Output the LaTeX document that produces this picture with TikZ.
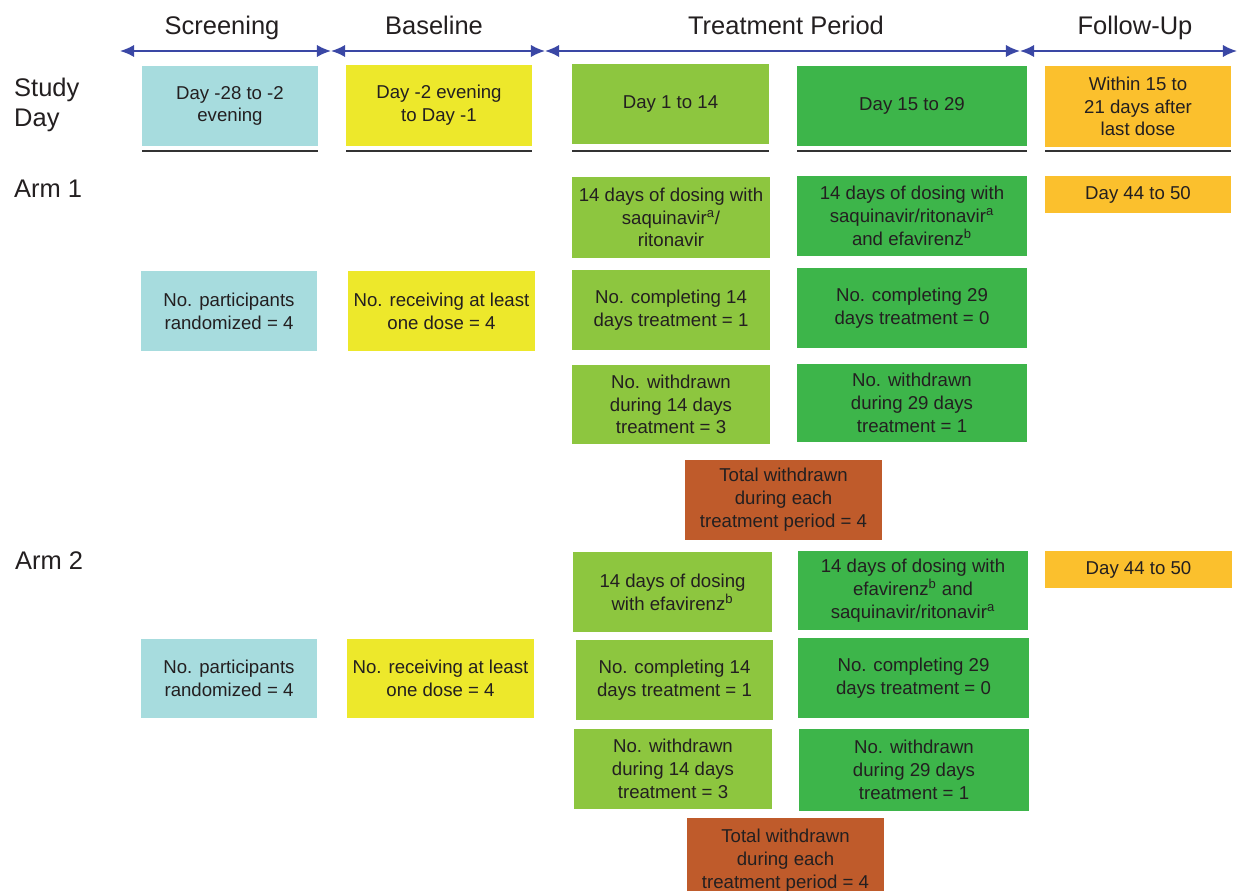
\documentclass[tikz,border=0pt]{standalone}
\usepackage{fontspec}
\setmainfont{Liberation Sans}
\usetikzlibrary{arrows.meta}

\definecolor{scrcol}{HTML}{A7DCDE}
\definecolor{basecol}{HTML}{EDE82B}
\definecolor{trtone}{HTML}{8DC63F}
\definecolor{trttwo}{HTML}{3DB54A}
\definecolor{fucol}{HTML}{FBC02D}
\definecolor{wdcol}{HTML}{BF5B2B}
\definecolor{linecol}{HTML}{3A47A5}
\definecolor{txtcol}{HTML}{231F20}

\begin{document}
\begin{tikzpicture}[x=0.02cm, y=-0.02cm,
    box/.style={inner sep=0pt, align=center, text=txtcol, font=\fontsize{10.6}{13}\selectfont},
    head/.style={text=txtcol, font=\fontsize{14.5}{17.5}\selectfont},
    timeline/.style={linecol, line width=1.1pt, {Latex[length=8pt,width=7pt]}-{Latex[length=8pt,width=7pt]}},
    underline/.style={draw=black!80, line width=1.4pt}]
        \useasboundingbox (0,0) rectangle (1237,891);

        % periods
        \node[head, anchor=base] (hscr) at (222,35) {Screening};
        \node[head, anchor=base] (hbase) at (434,35) {Baseline};
        \node[head, anchor=base] (htrt) at (786,35) {Treatment Period};
        \node[head, anchor=base] (hfu) at (1135,35) {Follow-Up};

        \coordinate (t0) at (120,51);
        \coordinate (t1) at (331,51);
        \coordinate (t2) at (545,51);
        \coordinate (t3) at (1020,51);
        \coordinate (t4) at (1237,51);
        \draw[timeline] (t0) -- (t1);
        \draw[timeline] (t1) -- (t2);
        \draw[timeline] (t2) -- (t3);
        \draw[timeline] (t3) -- (t4);

        % row labels
        \node[head, anchor=west, align=left] (lday) at (8,105) {Study\\Day};
        \node[head, anchor=west] (larm1) at (8,189) {Arm 1};
        \node[head, anchor=west] (larm2) at (9,561) {Arm 2};

        % study day
        \node[box, fill=scrcol, minimum width=3.52cm, minimum height=1.6cm] (sday) at (230,106) {Day -28 to -2\\evening};
        \node[box, fill=basecol, minimum width=3.72cm, minimum height=1.62cm] (bday) at (439,105.5) {Day -2 evening\\to Day -1};
        \node[box, fill=trtone, minimum width=3.94cm, minimum height=1.6cm] (dayone) at (670.5,104) {Day 1 to 14};
        \node[box, fill=trttwo, minimum width=4.6cm, minimum height=1.6cm] (daytwo) at (912,106) {Day 15 to 29};
        \node[box, fill=fucol, minimum width=3.72cm, minimum height=1.62cm] (fday) at (1138,106.5) {Within 15 to\\21 days after\\last dose};

        \draw[underline] (142,151) -- (318,151);
        \draw[underline] (346,151) -- (532,151);
        \draw[underline] (572,151) -- (769,151);
        \draw[underline] (797,151) -- (1027,151);
        \draw[underline] (1045,151) -- (1231,151);

        % arm 1
        \node[box, fill=trtone, minimum width=3.96cm, minimum height=1.62cm] (doseoneA) at (671,217.5) {14 days of dosing with\\saquinavir\textsuperscript{a}/\\ritonavir};
        \node[box, fill=trttwo, minimum width=4.6cm, minimum height=1.6cm] (dosetwoA) at (912,216) {14 days of dosing with\\saquinavir/ritonavir\textsuperscript{a}\\and efavirenz\textsuperscript{b}};
        \node[box, fill=fucol, minimum width=3.72cm, minimum height=0.74cm] (fuA) at (1138,194.5) {Day 44 to 50};
        \node[box, fill=scrcol, minimum width=3.52cm, minimum height=1.6cm] (randA) at (229,311) {No. participants\\randomized = 4};
        \node[box, fill=basecol, minimum width=3.74cm, minimum height=1.6cm] (recvA) at (441.5,311) {No. receiving at least\\one dose = 4};
        \node[box, fill=trtone, minimum width=3.96cm, minimum height=1.6cm] (componeA) at (671,310) {No. completing 14\\days treatment = 1};
        \node[box, fill=trttwo, minimum width=4.6cm, minimum height=1.6cm] (comptwoA) at (912,308) {No. completing 29\\days treatment = 0};
        \node[box, fill=trtone, minimum width=3.96cm, minimum height=1.58cm] (wdoneA) at (671,404.5) {No. withdrawn\\during 14 days\\treatment = 3};
        \node[box, fill=trttwo, minimum width=4.6cm, minimum height=1.56cm] (wdtwoA) at (912,403) {No. withdrawn\\during 29 days\\treatment = 1};
        \node[box, fill=wdcol, minimum width=3.96cm, minimum height=1.6cm] (totA) at (783.5,500) {Total withdrawn\\during each\\treatment period = 4};

        % arm 2
        \node[box, fill=trtone, minimum width=3.98cm, minimum height=1.6cm] (doseoneB) at (672.5,592) {14 days of dosing\\with efavirenz\textsuperscript{b}};
        \node[box, fill=trttwo, minimum width=4.6cm, minimum height=1.58cm] (dosetwoB) at (913,590.5) {14 days of dosing with\\efavirenz\textsuperscript{b} and\\saquinavir/ritonavir\textsuperscript{a}};
        \node[box, fill=fucol, minimum width=3.74cm, minimum height=0.74cm] (fuB) at (1138.5,569.5) {Day 44 to 50};
        \node[box, fill=scrcol, minimum width=3.52cm, minimum height=1.58cm] (randB) at (229,678.5) {No. participants\\randomized = 4};
        \node[box, fill=basecol, minimum width=3.74cm, minimum height=1.58cm] (recvB) at (440.5,678.5) {No. receiving at least\\one dose = 4};
        \node[box, fill=trtone, minimum width=3.94cm, minimum height=1.6cm] (componeB) at (674.5,680) {No. completing 14\\days treatment = 1};
        \node[box, fill=trttwo, minimum width=4.62cm, minimum height=1.6cm] (comptwoB) at (913.5,678) {No. completing 29\\days treatment = 0};
        \node[box, fill=trtone, minimum width=3.96cm, minimum height=1.6cm] (wdoneB) at (673,769) {No. withdrawn\\during 14 days\\treatment = 3};
        \node[box, fill=trttwo, minimum width=4.6cm, minimum height=1.64cm] (wdtwoB) at (914,770) {No. withdrawn\\during 29 days\\treatment = 1};
        \node[box, fill=wdcol, minimum width=3.94cm, minimum height=1.72cm] (totB) at (785.5,861) {Total withdrawn\\during each\\treatment period = 4};
\end{tikzpicture}
\end{document}
